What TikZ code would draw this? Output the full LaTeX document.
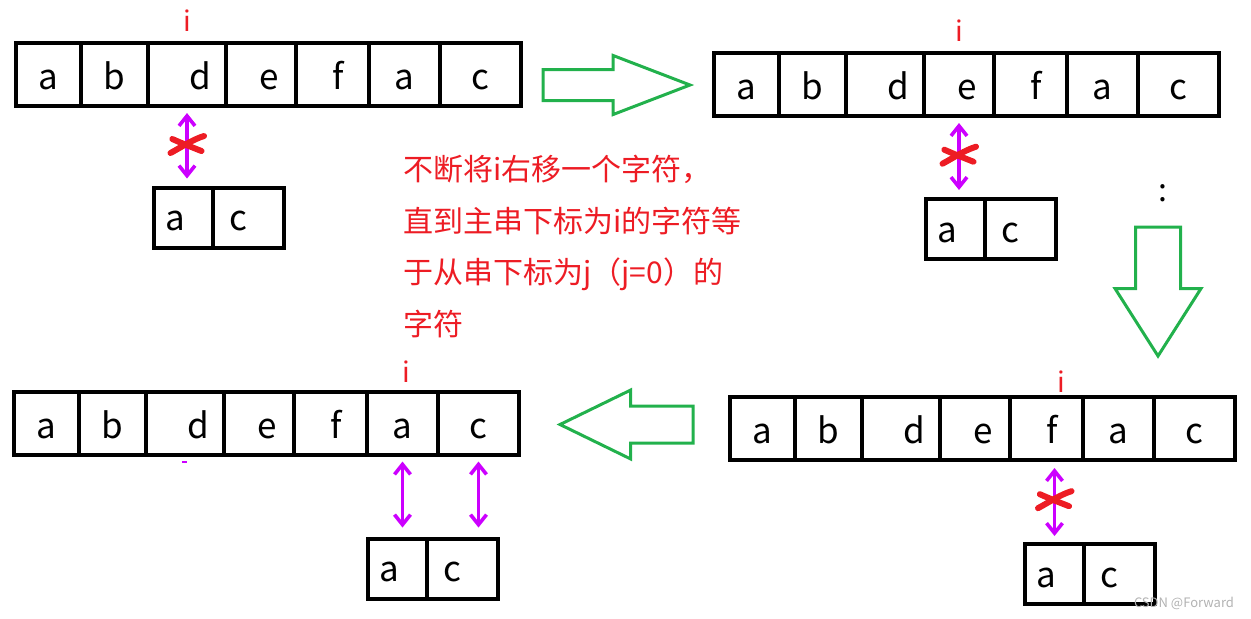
\documentclass[tikz,border=0pt]{standalone}
\usepackage{fontspec}
\setmainfont{Noto Sans CJK SC}
\usepackage{tikz}
\usetikzlibrary{positioning,arrows.meta,shapes.arrows}
\definecolor{tred}{RGB}{237,28,36}
\definecolor{mag}{RGB}{204,0,255}
\definecolor{ggreen}{RGB}{34,177,76}
% main string a b d e f a c, first cell centred at #2
\newcommand{\mainrow}[2]{%
  \node[cell, minimum width=32.5pt] (#1c1) at (#2) {a};
  \node[cell, minimum width=33.5pt, right=0pt of #1c1] (#1c2) {b};
  \node[cell, minimum width=39pt, right=0pt of #1c2] (#1c3) {\hspace{13pt}d};
  \node[cell, minimum width=35pt, right=0pt of #1c3] (#1c4) {\hspace{8pt}e};
  \node[cell, minimum width=36.5pt, right=0pt of #1c4] (#1c5) {\hspace{6pt}f};
  \node[cell, minimum width=35.5pt, right=0pt of #1c5] (#1c6) {a};
  \node[cell, minimum width=40.5pt, right=0pt of #1c6] (#1c7) {c};}
% pattern string a c
\newcommand{\subrow}[2]{%
  \node[pcell, minimum width=29.5pt] (#1a) at (#2) {a\hspace{8pt}\mbox{}};
  \node[pcell, minimum width=35.5pt, right=0pt of #1a] (#1c) {c\hspace{10pt}\mbox{}};}

\begin{document}
\begin{tikzpicture}[
    x=0.5pt, y=-0.5pt,
    every node/.style={font=\fontsize{17.5}{20}\selectfont},
    cell/.style={draw, line width=2pt, minimum height=31.5pt, text height=15pt, text depth=0pt, inner sep=0pt, outer sep=0pt},
    pcell/.style={draw, line width=2pt, minimum height=30pt, text height=13pt, text depth=0pt, inner sep=0pt, outer sep=0pt},
    ptr/.style={text=tred, font=\fontsize{14}{16}\selectfont, inner sep=0pt},
    note/.style={text=tred, font=\fontsize{15}{25.7}\selectfont, align=left, inner sep=0pt},
    match/.style={draw=mag, line width=1.8pt, {Straight Barb[length=5pt,width=8pt]}-{Straight Barb[length=5pt,width=8pt]}},
    xmark/.style={draw=tred, line width=3pt, line cap=round},
    flow/.style={single arrow, draw=ggreen, line width=1.5pt, inner sep=0pt, outer sep=0pt, anchor=tail},
    nomatch/.pic={
      \draw[xmark] (-16.5,8.7) .. controls (-6,3) and (6,-5) .. (17,-8.3);
      \draw[xmark] (-14.7,-5.3) .. controls (-5,-1) and (5,3) .. (14.5,6.7);
    }
  ]
  \useasboundingbox (0,0) rectangle (1251,618);

  % the four steps
  \mainrow{r1}{48.5,74.5}
  \mainrow{r2}{746.5,84.5}
  \mainrow{r3}{762.5,428.5}
  \mainrow{r4}{46.5,423}
  \subrow{p1}{183.5,217.5}
  \subrow{p2}{955.5,229}
  \subrow{p3}{1054.5,574}
  \subrow{p4}{397.5,568.5}

  % i
  \node[ptr, above=5.5pt of r1c3] (i1) {i};
  \node[ptr, above=5.5pt of r2c4] (i2) {i};
  \node[ptr, above=2pt of r3c5, xshift=7.5pt] (i3) {i};
  \node[ptr, above=4.5pt of r4c6, xshift=2pt] (i4) {i};

  % compare
  \draw[match, shorten <=3.5pt, shorten >=4.5pt] (r1c3.south) -- coordinate[pos=0.47] (x1) (r1c3.south |- p1a.north);
  \draw[match, shorten <=3.5pt, shorten >=4.5pt] (r2c4.south) -- coordinate[pos=0.47] (x2) (r2c4.south |- p2a.north);
  \draw[match, shorten <=4pt, shorten >=4pt] (p3a.north |- r3c5.south) -- coordinate[pos=0.47] (x3) (p3a.north);
  \draw[match, shorten <=3.5pt, shorten >=5.5pt] (r4c6.south) -- (r4c6.south |- p4a.north);
  \draw[match, shorten <=3.5pt, shorten >=5.5pt] (r4c7.south) -- (r4c7.south |- p4c.north);
  \pic at (x1) {nomatch};
  \pic at (x2) {nomatch};
  \pic at (x3) {nomatch};
  \draw[draw=mag, line width=1pt] (182,462) -- (187,462);

  % steps
  \node[flow, minimum height=73.5pt, minimum width=28pt, inner ysep=7pt, single arrow head extend=7pt, single arrow tip angle=42] (go1) at (543,85) {};
  \node[flow, rotate=-90, minimum height=64.5pt, minimum width=41.5pt, inner ysep=10.5pt, single arrow head extend=10.25pt, single arrow tip angle=65] (go2) at (1158,227) {};
  \node[flow, rotate=180, minimum height=66.5pt, minimum width=33pt, inner ysep=8.5pt, single arrow head extend=8pt, single arrow tip angle=52] (go3) at (693,424.5) {};
  \node[font=\fontsize{16}{16}\selectfont] (dots) at (1163,193) {:};

  \node[note, anchor=north west] (note) at (403,155) {不断将i右移一个字符，\\直到主串下标为i的字符等\\于从串下标为j（j=0）的\\字符};

  \node[text=gray!60, font=\fontsize{6.5}{7}\selectfont] (wm) at (1184,603) {CSDN @Forward};
\end{tikzpicture}
\end{document}
